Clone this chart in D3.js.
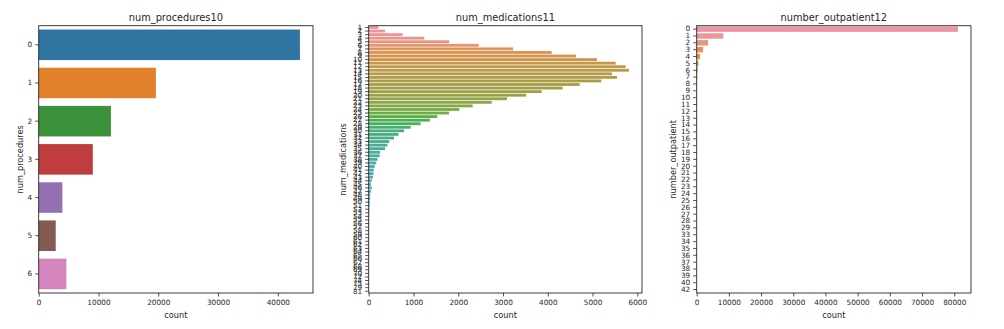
<!DOCTYPE html>
<html>
<head>
<meta charset="utf-8">
<script src="https://cdn.jsdelivr.net/npm/d3@7"></script>
<style>
  body { margin: 0; background: #fff; }
  text { font-family: 'DejaVu Sans', sans-serif; fill: #262626; }
</style>
</head>
<body>
<svg id="chart"></svg>
<script>
// counts
const procCats = [0, 1, 2, 3, 4, 5, 6]
const procCounts = [43700, 19600, 12080, 9050, 3960, 2850, 4630]
const procTicks = [0, 10000, 20000, 30000, 40000]

const medCats = [
  1, 2, 3, 4, 5, 6, 7, 8, 9, 10, 11, 12, 13, 14, 15, 16, 17, 18, 19, 20,
  21, 22, 23, 24, 25, 26, 27, 28, 29, 30, 31, 32, 33, 34, 35, 36, 37, 38, 39, 40,
  41, 42, 43, 44, 45, 46, 47, 48, 49, 50, 51, 52, 53, 54, 55, 56, 57, 58, 59, 60,
  61, 62, 63, 64, 65, 66, 67, 68, 69, 70, 72, 74, 75, 79, 81,
]
const medCounts = [
  216, 365, 759, 1243, 1800, 2457, 3223, 4087, 4630, 5099, 5516, 5739, 5814, 5434, 5546, 5196, 4712, 4332, 3863, 3514,
  3089, 2747, 2323, 2025, 1794, 1533, 1365, 1160, 938, 789, 663, 566, 458, 417, 365, 253, 245, 197, 170, 135,
  112, 105, 95, 67, 52, 67, 52, 35, 30, 28, 22, 18, 15, 14, 12, 11, 10, 9, 8, 7,
  6, 5, 5, 4, 4, 3, 3, 3, 2, 2, 2, 1, 1, 1, 1,
]
const medTicks = [0, 1000, 2000, 3000, 4000, 5000, 6000]

const outCats = [
  0, 1, 2, 3, 4, 5, 6, 7, 8, 9, 10, 11, 12, 13, 14, 15, 16, 17, 18, 19,
  20, 21, 22, 23, 24, 25, 26, 27, 28, 29, 33, 34, 35, 36, 37, 38, 39, 40, 42,
]
const outCounts = [
  81150, 8280, 3550, 2000, 1050, 510, 290, 148, 94, 79, 54, 40, 29, 30, 27, 19, 14, 8, 5, 3,
  7, 7, 5, 2, 3, 2, 2, 3, 1, 2, 2, 1, 2, 2, 1, 1, 1, 1, 1,
]
const outTicks = [0, 10000, 20000, 30000, 40000, 50000, 60000, 70000, 80000]

const width = 1004
const height = 329
const plotTop = 25.7
const plotBottom = 293

// husl -> rgb (same maths as seaborn's husl module)
const M = [
  [3.240969941904521, -1.537383177570093, -0.498610760293],
  [-0.96924363628087, 1.87596750150772, 0.041555057407175],
  [0.055630079696993, -0.20397695888897, 1.056971514242878],
]

const maxChroma = (L, H) => {
  const hrad = (H / 180) * Math.PI
  const sub1 = Math.pow(L + 16, 3) / 1560896
  const sub2 = sub1 > 0.0088564516 ? sub1 : L / 903.2962962
  let best = Infinity
  for (const [m1, m2, m3] of M) {
    for (const t of [0, 1]) {
      const top1 = (284517 * m1 - 94839 * m3) * sub2
      const top2 = (838422 * m3 + 769860 * m2 + 731718 * m1) * L * sub2 - 769860 * t * L
      const bot = (632260 * m3 - 126452 * m2) * sub2 + 126452 * t
      const len = top2 / bot / (Math.sin(hrad) - (top1 / bot) * Math.cos(hrad))
      if (len >= 0) best = Math.min(best, len)
    }
  }
  return best
}

const huslRgb = (h, s, l) => {
  const C = (maxChroma(l, h) / 100) * s
  const hr = (h / 180) * Math.PI
  const varU = (C * Math.cos(hr)) / (13 * l) + 0.19783000664283
  const varV = (C * Math.sin(hr)) / (13 * l) + 0.46831999493879
  const Y = l <= 8 ? l / 903.2962962 : Math.pow((l + 16) / 116, 3)
  const X = -(9 * Y * varU) / ((varU - 4) * varV - varU * varV)
  const Z = (9 * Y - 15 * varV * Y - varV * X) / (3 * varV)
  return M.map(([a, b, c]) => {
    let v = a * X + b * Y + c * Z
    v = v <= 0.0031308 ? 12.92 * v : 1.055 * Math.pow(v, 1 / 2.4) - 0.055
    return Math.max(0, Math.min(1, v)) * 255
  })
}

// seaborn knocks saturation down to 0.75
const desat = (c) => {
  const h = d3.hsl(c)
  h.s *= 0.75
  return h.formatHex()
}

const huslPalette = (n) =>
  d3.range(n).map((i) => {
    const h = ((i / n + 0.01) % 1) * 359
    const [r, g, b] = huslRgb(h, 89.1, 69.3)
    return desat(d3.rgb(r, g, b))
  })

const panels = [
  { title: 'num_procedures10', ylabel: 'num_procedures', cats: procCats, counts: procCounts, ticks: procTicks, x0: 38.7, x1: 313, labelOff: 18.5, colors: d3.schemeCategory10.map(desat) },
  { title: 'num_medications11', ylabel: 'num_medications', cats: medCats, counts: medCounts, ticks: medTicks, x0: 368.7, x1: 642, labelOff: 25.4, colors: huslPalette(medCats.length) },
  { title: 'number_outpatient12', ylabel: 'number_outpatient', cats: outCats, counts: outCounts, ticks: outTicks, x0: 696.7, x1: 971, labelOff: 24, colors: huslPalette(outCats.length) },
]

const svg = d3.select('#chart').attr('width', width).attr('height', height)
svg.append('rect').attr('width', width).attr('height', height).attr('fill', '#fff')

const drawPanel = (p) => {
  const g = svg.append('g')
  const data = p.cats.map((c, i) => ({ cat: c, value: p.counts[i] }))

  const x = d3
    .scaleLinear()
    .domain([0, d3.max(p.counts) * 1.05])
    .range([p.x0, p.x1])

  const y = d3
    .scaleBand()
    .domain(p.cats)
    .range([plotTop, plotBottom])
    .paddingInner(0.2)
    .paddingOuter(0.1)

  g.append('g')
    .selectAll('rect')
    .data(data)
    .join('rect')
    .attr('x', x(0))
    .attr('y', (d) => y(d.cat))
    .attr('width', (d) => x(d.value) - x(0))
    .attr('height', y.bandwidth())
    .attr('fill', (d, i) => p.colors[i % p.colors.length])

  // axes
  const xAxis = g
    .append('g')
    .attr('transform', `translate(0,${plotBottom})`)
    .call(d3.axisBottom(x).tickValues(p.ticks).tickFormat(d3.format('d')).tickSize(3.5).tickPadding(3))
  const yAxis = g
    .append('g')
    .attr('transform', `translate(${p.x0},0)`)
    .call(d3.axisLeft(y).tickSize(3.5).tickPadding(3))

  for (const ax of [xAxis, yAxis]) {
    ax.select('.domain').remove()
    ax.selectAll('line').attr('stroke', '#262626').attr('stroke-width', 0.8)
    ax.selectAll('text').attr('font-size', 7.3).attr('font-family', 'DejaVu Sans').attr('fill', '#262626')
  }

  // frame
  g.append('rect')
    .attr('x', p.x0)
    .attr('y', plotTop)
    .attr('width', p.x1 - p.x0)
    .attr('height', plotBottom - plotTop)
    .attr('fill', 'none')
    .attr('stroke', '#262626')
    .attr('stroke-width', 0.9)

  g.append('text')
    .attr('x', (p.x0 + p.x1) / 2)
    .attr('y', 20.5)
    .attr('text-anchor', 'middle')
    .attr('font-size', 9.8)
    .text(p.title)

  g.append('text')
    .attr('x', (p.x0 + p.x1) / 2)
    .attr('y', 317.5)
    .attr('text-anchor', 'middle')
    .attr('font-size', 8.2)
    .text('count')

  g.append('text')
    .attr('transform', `translate(${p.x0 - p.labelOff},${(plotTop + plotBottom) / 2}) rotate(-90)`)
    .attr('text-anchor', 'middle')
    .attr('dy', '0.35em')
    .attr('font-size', 8.2)
    .text(p.ylabel)
}

panels.forEach(drawPanel)
</script>
</body>
</html>
